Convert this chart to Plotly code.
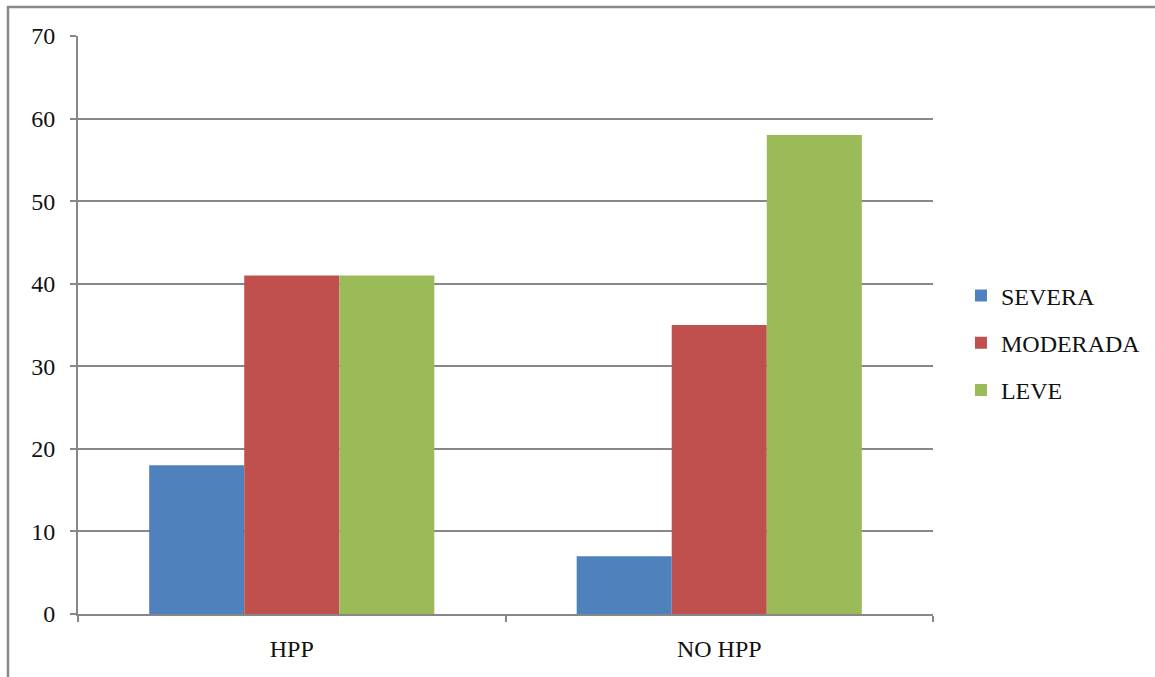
import plotly.graph_objects as go

categories = ["HPP", "NO HPP"]
severa = [18, 7]
moderada = [41, 35]
leve = [41, 58]

series_names = ["SEVERA", "MODERADA", "LEVE"]
series_colors = ["#4F81BD", "#C0504D", "#9BBB59"]
series_values = [severa, moderada, leve]

FONT = "Liberation Serif"
GRID = "#878787"

fig = go.Figure()
for name, color, vals in zip(series_names, series_colors, series_values):
    fig.add_trace(go.Bar(
        x=categories, y=vals, name=name, marker=dict(color=color, line=dict(width=0)),
        legendgroup=name,
    ))

fig.update_layout(
    width=1155, height=677,
    margin=dict(l=78, r=222, t=36, b=63, autoexpand=False),
    paper_bgcolor="white", plot_bgcolor="white",
    barmode="group", bargap=0.333, bargroupgap=0,
    font=dict(family=FONT, size=24, color="#111111"),
    xaxis=dict(
        showgrid=False, showline=True, linecolor=GRID, linewidth=2,
        ticks="outside", ticklen=6, tickcolor=GRID, tickwidth=2,
        tickson="boundaries", ticklabelstandoff=12,
        tickfont=dict(family=FONT, size=24),
    ),
    yaxis=dict(
        range=[0, 70], dtick=10, showgrid=True, gridcolor=GRID, gridwidth=1.5,
        showline=True, linecolor=GRID, linewidth=2,
        ticks="outside", ticklen=6, tickcolor=GRID, tickwidth=2,
        zeroline=False, tickfont=dict(family=FONT, size=24),
        ticklabelstandoff=10,
    ),
    legend=dict(
        xref="container", yref="container",
        x=0.832, y=0.4934, xanchor="left", yanchor="middle",
        traceorder="grouped", tracegroupgap=13,
        font=dict(family=FONT, size=24),
        itemwidth=30,
    ),
    shapes=[dict(
        type="rect", xref="paper", yref="paper",
        x0=-0.0819, x1=1.6, y0=-0.5, y1=1.0502,
        line=dict(color="#898989", width=2.5), fillcolor="rgba(0,0,0,0)", layer="below",
    )],
)

fig.write_html("out.html")
